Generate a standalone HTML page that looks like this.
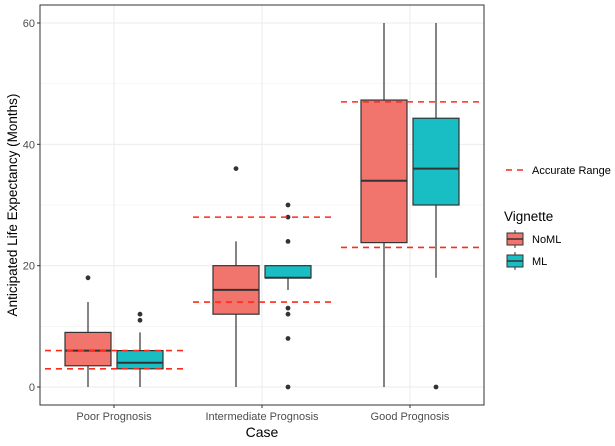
<!DOCTYPE html>
<html><head><meta charset="utf-8"><style>body{margin:0;background:#fff}svg{font-family:"Liberation Sans",sans-serif}</style></head>
<body>
<svg id="c" width="615" height="441"></svg>
<script>
const categories=["Poor Prognosis","Intermediate Prognosis","Good Prognosis"];
const seriesNames=["NoML","ML"];
const colors=["#F2756D","#19BDC4"];
// [lowWhisker, q1, median, q3, highWhisker]
const noml=[[0,3.5,6,9,14],[0,12,16,20,24],[0,23.8,34,47.3,60]];
const ml=[[0,3,4,6,9],[16,18,18,20,20],[18,30,36,44.3,60]];
const nomlOutliers=[[18],[36],[]];
const mlOutliers=[[11,12],[0,8,12,13,24,28,30],[0]];
const accurateLow=[3,14,23];
const accurateHigh=[6,28,47];
const yTicks=[0,20,40,60];
const NS="http://www.w3.org/2000/svg";
const svg=document.getElementById('c');
const L=40,R=484,T=5,B=405;
const y=v=>387-(v/60)*364;
const x=i=>L+(R-L)*(i+0.5)/3;
function el(t,a,p){const e=document.createElementNS(NS,t);for(const k in a)e.setAttribute(k,a[k]);(p||svg).appendChild(e);return e;}
const bg=el('rect',{x:L,y:T,width:R-L,height:B-T,fill:'#fff'});

for(let v=10;v<=60;v+=20){el('line',{x1:L,x2:R,y1:y(v),y2:y(v),stroke:'#f0f0f0','stroke-width':0.6});}
yTicks.forEach(v=>{const g=el('line',{x1:L,x2:R,y1:y(v),y2:y(v),stroke:'#ebebeb','stroke-width':1});

el('line',{x1:L-3,x2:L,y1:y(v),y2:y(v),stroke:'#333'});
const t=el('text',{x:L-5,y:y(v)+4,'text-anchor':'end','font-size':11,fill:'#4d4d4d'});t.textContent=v;
});
categories.forEach((c,i)=>{el('line',{x1:x(i),x2:x(i),y1:T,y2:B,stroke:'#ebebeb'});
el('line',{x1:x(i),x2:x(i),y1:B,y2:B+3,stroke:'#333'});
const t=el('text',{x:x(i),y:420,'text-anchor':'middle','font-size':11,fill:'#4d4d4d'});t.textContent=c;
});
const bw=46,off=26;
[noml,ml].forEach((s,si)=>{s.forEach((d,i)=>{const cx=x(i)+(si?off:-off);
const g=el('g',{});
el('line',{x1:cx,x2:cx,y1:y(d[0]),y2:y(d[4]),stroke:'#333','stroke-width':1.2},g);
el('rect',{x:cx-bw/2,y:y(d[3]),width:bw,height:y(d[1])-y(d[3]),fill:colors[si],stroke:'#333','stroke-width':1.2},g);
el('line',{x1:cx-bw/2,x2:cx+bw/2,y1:y(d[2]),y2:y(d[2]),stroke:'#333','stroke-width':2},g);
(si?mlOutliers:nomlOutliers)[i].forEach(o=>{const p=el('circle',{cx:cx,cy:y(o),r:2.4,fill:'#333'},g);
});});});
categories.forEach((c,i)=>{[accurateLow[i],accurateHigh[i]].forEach(v=>{const l=el('line',{x1:x(i)-69,x2:x(i)+69,y1:y(v),y2:y(v),stroke:'#ff2a1a','stroke-width':1.6,'stroke-dasharray':'6,5'});
});});
el('rect',{x:L,y:T,width:R-L,height:B-T,fill:'none',stroke:'#333','stroke-width':1});
let t=el('text',{x:262,y:437,'text-anchor':'middle','font-size':14,fill:'#000'});t.textContent='Case';

t=el('text',{x:0,y:0,transform:'translate(17,205) rotate(-90)','text-anchor':'middle','font-size':13.5,fill:'#000'});t.textContent='Anticipated Life Expectancy (Months)';

const lg=el('g',{});
el('line',{x1:506,x2:524,y1:170,y2:170,stroke:'#ff2a1a','stroke-width':1.6,'stroke-dasharray':'6,5'},lg);
t=el('text',{x:532,y:174,'font-size':11,fill:'#000'},lg);t.textContent='Accurate Range';
t=el('text',{x:504,y:221,'font-size':13.5,fill:'#000'},lg);t.textContent='Vignette';
seriesNames.forEach((n,i)=>{const yy=239+i*22;const k=el('g',{},lg);
el('line',{x1:515,x2:515,y1:yy-9,y2:yy+9,stroke:'#333'},k);
el('rect',{x:507,y:yy-6,width:16,height:12,fill:colors[i],stroke:'#333'},k);
el('line',{x1:507,x2:523,y1:yy,y2:yy,stroke:'#333','stroke-width':1.5},k);
const tt=el('text',{x:532,y:yy+4,'font-size':11,fill:'#000'},k);tt.textContent=n;});
</script>
</body></html>
